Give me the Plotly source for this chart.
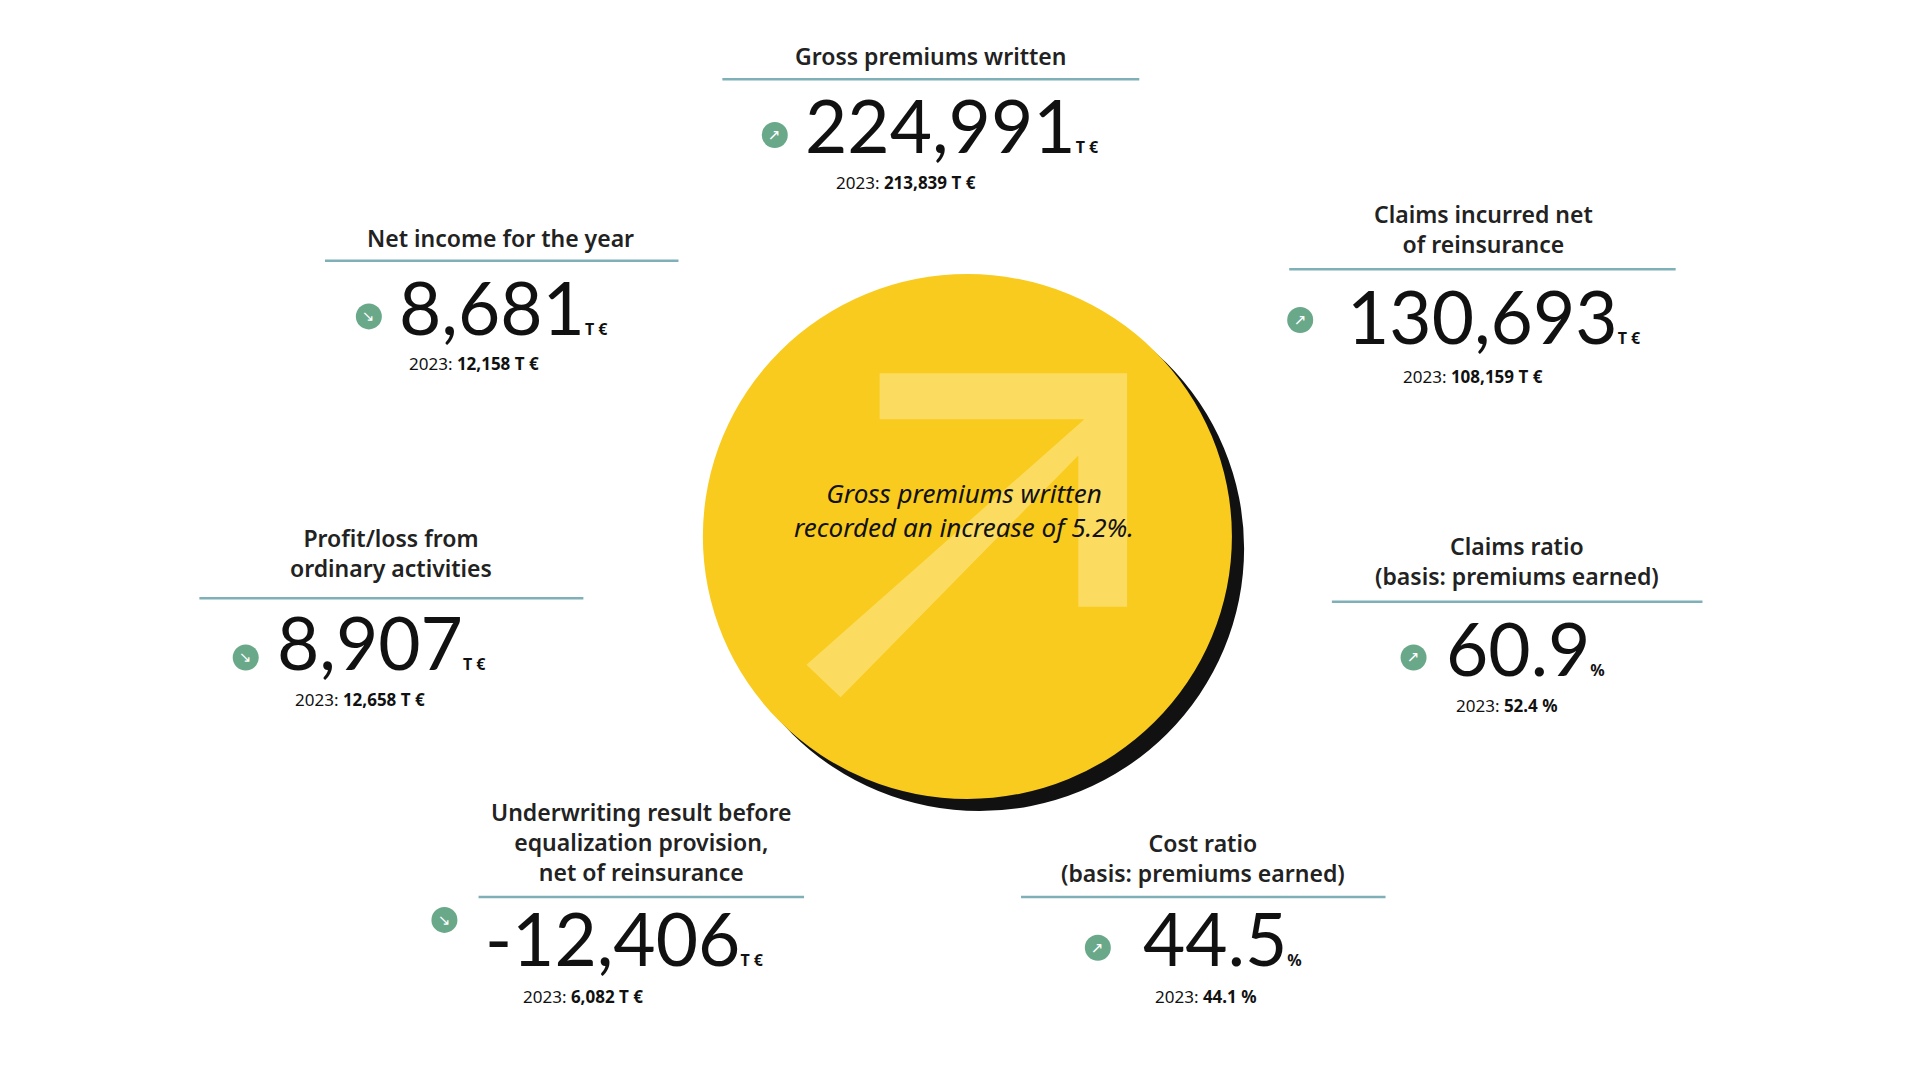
import plotly.graph_objects as go

# card data
titles = ["Gross premiums written", "Net income for the year", "Claims incurred net<br>of reinsurance",
          "Profit/loss from<br>ordinary activities", "Claims ratio<br>(basis: premiums earned)",
          "Underwriting result before<br>equalization provision,<br>net of reinsurance",
          "Cost ratio<br>(basis: premiums earned)"]
values = ["224,991", "8,681", "130,693", "8,907", "60.9", "-12,406", "44.5"]
units = ["T €", "T €", "T €", "T €", "%", "T €", "%"]
prev = ["213,839 T €", "12,158 T €", "108,159 T €", "12,658 T €", "52.4 %", "6,082 T €", "44.1 %"]
trend = ["up", "down", "up", "down", "up", "down", "up"]

# layout positions (reference pixel space)
title_xy = [(757, 40), (404, 190), (1210, 183), (314, 451), (1238, 457), (520, 690), (980, 703)]
rule = [(586, 928, 59), (260, 550, 209), (1051, 1368, 216), (157, 472, 488), (1086, 1390, 491), (386, 653, 735), (831, 1130, 735)]
icon_xy = [(629, 105), (296, 255), (1060, 258), (195, 537), (1153, 537), (358, 754), (894, 777)]
num_xy = [(652, 97), (319, 247), (1097, 255), (219, 524), (1178, 529), (390, 769), (929, 769)]
prev_xy = [(737, 144), (382, 294), (1202, 305), (289, 572), (1230, 577), (472, 817), (983, 817)]

W, H = 1575, 893
fig = go.Figure()

shapes = []
# shadow and yellow disc
shapes.append(dict(type="circle", x0=797 - 217, x1=797 + 217, y0=447 - 217, y1=447 + 217,
                   fillcolor="#111111", line=dict(width=0), layer="below"))
shapes.append(dict(type="circle", x0=787 - 217, x1=787 + 217, y0=437 - 217, y1=437 + 217,
                   fillcolor="#f9cb1f", line=dict(width=0), layer="below"))
# light arrow
shapes.append(dict(type="path", path="M 655,543 L 883,340 L 715,340 L 715,302 L 918,302 L 918,495 L 878,495 L 878,370 L 683,570 Z",
                   fillcolor="rgba(255,235,150,0.55)", line=dict(width=0), layer="below"))
for x0, x1, y in rule:
    shapes.append(dict(type="line", x0=x0, x1=x1, y0=y, y1=y, line=dict(color="#7fb0b8", width=2.5)))

ann = []
for i in range(len(titles)):
    ann.append(dict(x=title_xy[i][0], y=title_xy[i][1], text=titles[i], showarrow=False,
                    font=dict(family="Noto Sans", size=23, color="#222", weight=600)))
    ann.append(dict(x=num_xy[i][0], y=num_xy[i][1], showarrow=False, xanchor="left",
                    text=values[i] + "<span style='font-size:16px;font-family:Noto Sans'><b>" + units[i] + "</b></span>",
                    font=dict(family="Lato", size=73, color="#111")))
    ann.append(dict(x=prev_xy[i][0], y=prev_xy[i][1], text="2023: <b>" + prev[i] + "</b>", showarrow=False,
                    font=dict(family="Noto Sans", size=17, color="#111")))
    ann.append(dict(x=icon_xy[i][0], y=icon_xy[i][1], text="↗" if trend[i] == "up" else "↘", showarrow=False,
                    font=dict(family="DejaVu Sans", size=15, color="white")))

ann.append(dict(x=784, y=415, text="<i>Gross premiums written<br>recorded an increase of 5.2%.</i>", showarrow=False,
                font=dict(family="Noto Sans", size=26, color="#111")))

fig.add_trace(go.Scatter(x=[p[0] for p in icon_xy], y=[p[1] for p in icon_xy], mode="markers",
                         marker=dict(size=26, color="#6aa88a"), hoverinfo="skip"))

fig.update_layout(width=1920, height=1080, margin=dict(l=0, r=0, t=0, b=0), showlegend=False,
                  paper_bgcolor="white", plot_bgcolor="white", shapes=shapes, annotations=ann,
                  xaxis=dict(range=[0, W], visible=False),
                  yaxis=dict(range=[H, 0], visible=False))
fig.write_html("out.html")
